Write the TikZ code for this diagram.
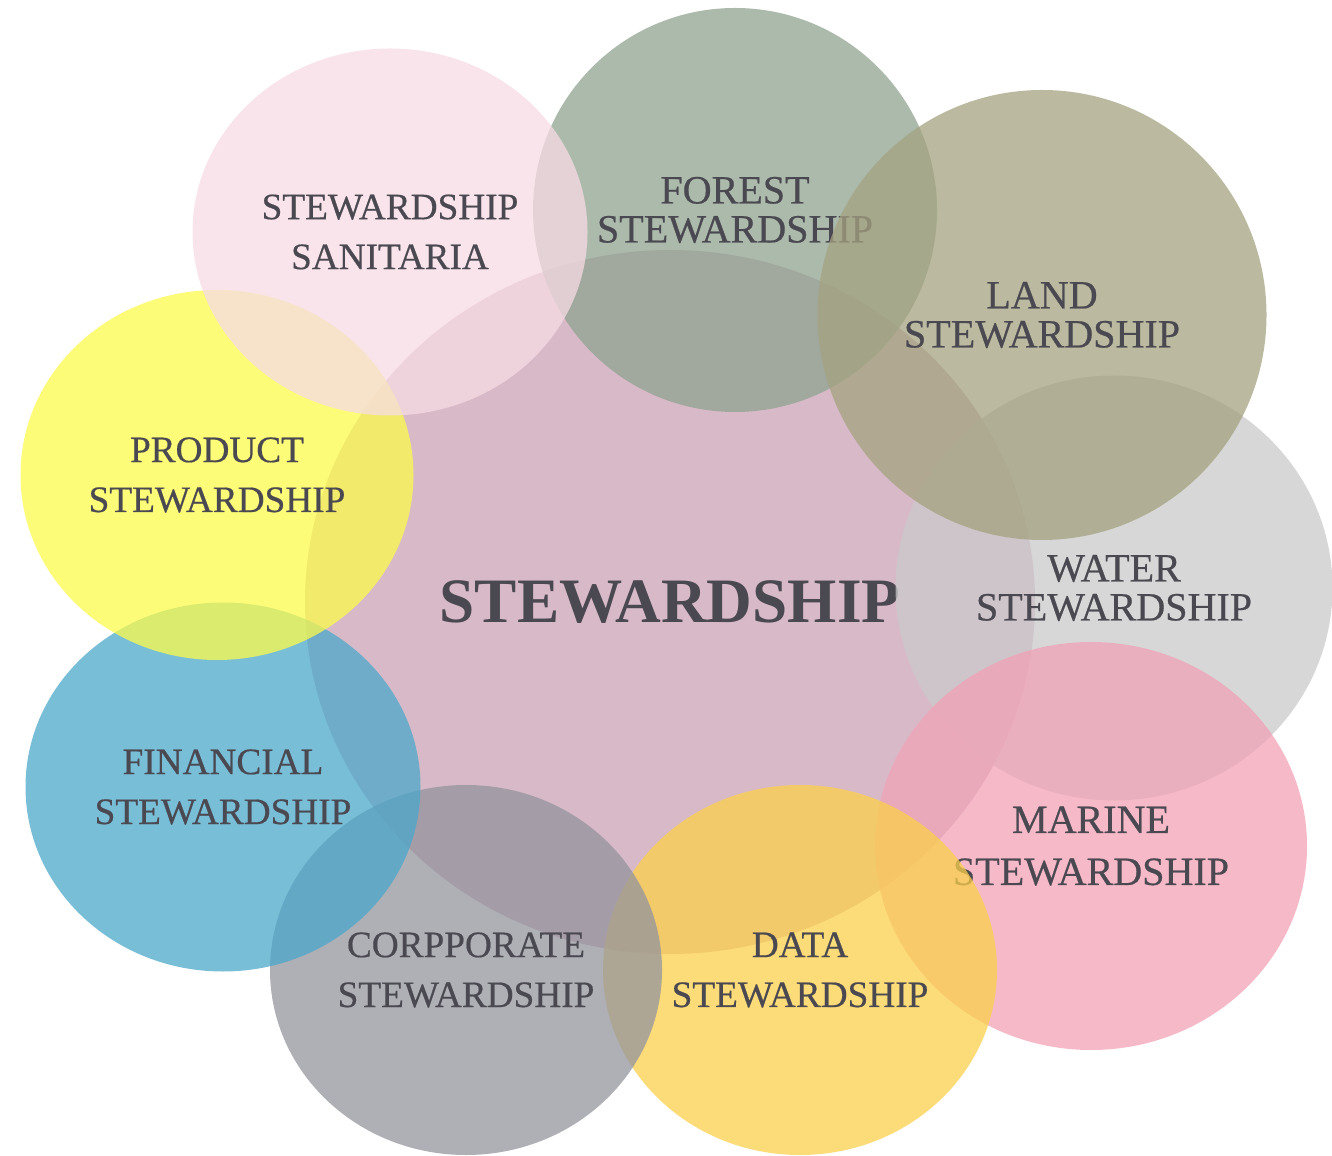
\documentclass[tikz,border=0pt]{standalone}
\usepackage{fontspec}
\setmainfont{Liberation Serif}
\newfontfamily\labelfont[FakeBold=0.5]{Liberation Serif}
\usepackage{tikz}
\usetikzlibrary{shapes.geometric}
\definecolor{textgray}{RGB}{74,72,80}
\definecolor{coremauve}{RGB}{202,162,182}
\definecolor{sanipink}{RGB}{247,219,228}
\definecolor{forestgreen}{RGB}{144,163,144}
\definecolor{landkhaki}{RGB}{164,162,128}
\definecolor{watergray}{RGB}{202,202,202}
\definecolor{marinepink}{RGB}{242,162,182}
\definecolor{dataorange}{RGB}{251,208,75}
\definecolor{corpgray}{RGB}{148,148,158}
\definecolor{finblue}{RGB}{75,168,202}
\definecolor{prodyellow}{RGB}{251,251,75}

\begin{document}
\begin{tikzpicture}[
			bubble/.style={ellipse, fill opacity=0.75, text opacity=1, inner sep=0pt, outer sep=0pt, align=center, text=textgray, font=\labelfont\fontsize{10.6}{14.2}\selectfont},
			]
			\useasboundingbox (0,0) rectangle (13.32,11.55);
			%Center
			\node[bubble, fill=coremauve, minimum width=7.30cm, minimum height=7.04cm, font=\bfseries\fontsize{18}{20}\selectfont]	(core)	at (6.70,5.53)	{STEWARDSHIP};
			%Ring, bottom ones first
			\node[bubble, fill=watergray, minimum width=4.37cm, minimum height=4.25cm, font=\labelfont\fontsize{11.4}{11.1}\selectfont]	(water)	at (11.14,5.67)	{WATER\\STEWARDSHIP};
			\node[bubble, fill=marinepink, minimum width=4.32cm, minimum height=4.08cm, font=\labelfont\fontsize{11.4}{14.8}\selectfont]	(marine)	at (10.91,3.09)	{MARINE\\STEWARDSHIP};
			\node[bubble, fill=dataorange, minimum width=3.94cm, minimum height=3.70cm]	(data)	at (8.00,1.85)	{DATA\\STEWARDSHIP};
			\node[bubble, fill=corpgray, minimum width=3.92cm, minimum height=3.70cm]	(corp)	at (4.66,1.85)	{CORPPORATE\\STEWARDSHIP};
			\node[bubble, fill=finblue, minimum width=3.95cm, minimum height=3.69cm]	(fin)	at (2.23,3.68)	{FINANCIAL\\STEWARDSHIP};
			\node[bubble, fill=prodyellow, minimum width=3.93cm, minimum height=3.70cm]	(prod)	at (2.17,6.80)	{PRODUCT\\STEWARDSHIP};
			%Top ones
			\node[bubble, fill=forestgreen, minimum width=4.04cm, minimum height=4.04cm, font=\labelfont\fontsize{11.4}{11.1}\selectfont]	(forest)	at (7.35,9.45)	{FOREST\\STEWARDSHIP};
			\node[bubble, fill=landkhaki, minimum width=4.49cm, minimum height=4.50cm, font=\labelfont\fontsize{11.4}{11.1}\selectfont]	(land)	at (10.42,8.40)	{LAND\\STEWARDSHIP};
			\node[bubble, fill=sanipink, minimum width=3.95cm, minimum height=3.67cm]	(sani)	at (3.90,9.23)	{STEWARDSHIP\\SANITARIA};
\end{tikzpicture}
\end{document}
